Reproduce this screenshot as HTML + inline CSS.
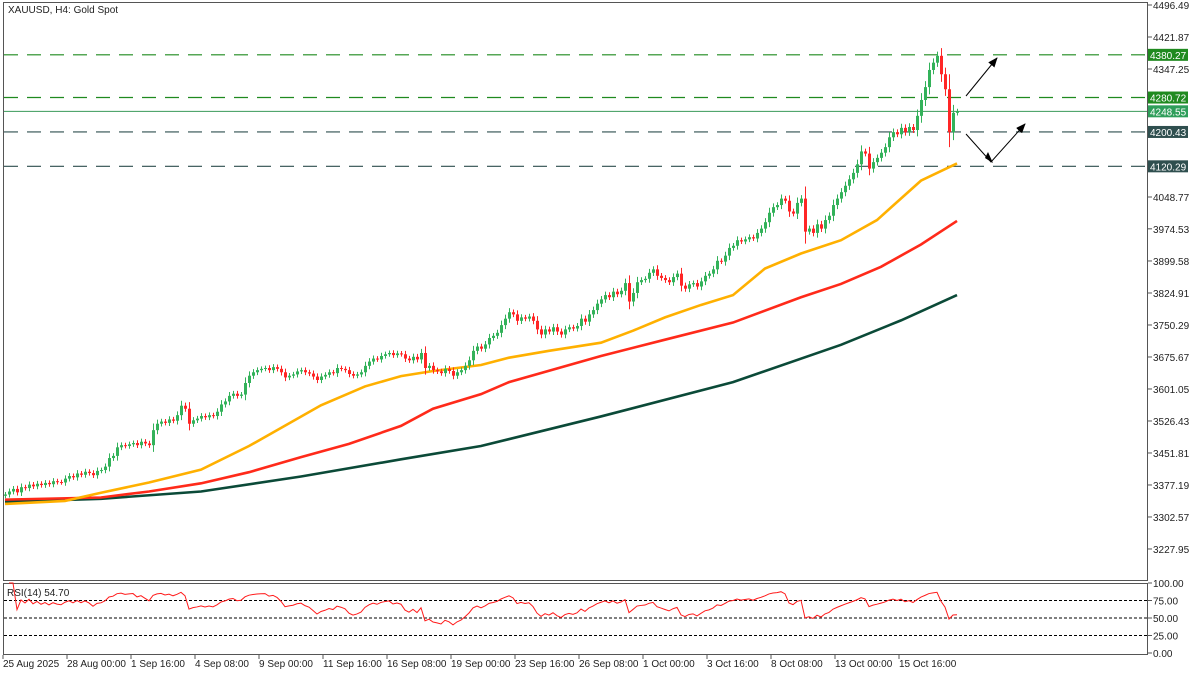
<!DOCTYPE html>
<html><head><meta charset="utf-8"><style>
body{margin:0;background:#fff;width:1200px;height:675px;overflow:hidden}
svg text{font-family:"Liberation Sans",sans-serif;font-size:10px;fill:#222}
</style></head><body>
<svg id="c" width="1200" height="675" xmlns="http://www.w3.org/2000/svg"></svg>
<script>
const closes=[3355,3362,3368,3360,3372,3370,3378,3374,3380,3377,3382,3379,3386,3384,3383,3392,3398,3395,3404,3401,3408,3405,3400,3410,3412,3420,3440,3445,3465,3470,3468,3472,3475,3470,3478,3474,3470,3505,3520,3525,3522,3530,3527,3540,3562,3555,3520,3528,3532,3538,3535,3540,3538,3548,3565,3572,3585,3590,3585,3588,3615,3632,3640,3645,3648,3650,3645,3652,3648,3640,3628,3632,3635,3642,3645,3640,3637,3630,3622,3630,3634,3640,3638,3650,3648,3645,3636,3632,3635,3640,3655,3665,3672,3670,3678,3682,3685,3680,3684,3682,3672,3668,3676,3670,3685,3650,3655,3645,3642,3638,3648,3643,3632,3640,3645,3655,3668,3690,3700,3695,3705,3720,3725,3732,3750,3765,3780,3775,3760,3768,3765,3770,3760,3740,3728,3740,3735,3745,3735,3728,3740,3745,3742,3748,3765,3758,3775,3785,3800,3810,3820,3815,3828,3822,3830,3848,3805,3825,3850,3855,3858,3872,3880,3865,3860,3855,3850,3862,3870,3842,3835,3845,3848,3840,3852,3865,3870,3880,3900,3898,3912,3930,3935,3948,3945,3950,3955,3952,3965,3975,3990,4012,4025,4030,4045,4040,4015,4010,4035,4045,3968,3975,3965,3985,3975,3995,4005,4030,4045,4060,4075,4090,4105,4125,4155,4150,4115,4130,4140,4152,4165,4188,4200,4195,4210,4200,4212,4205,4238,4275,4305,4345,4362,4378,4335,4300,4200,4245,4248.55];
const maFastIdx=[0,15,24,36,49,61,79,90,99,107,119,126,136,149,157,165,174,182,190,199,209,218,229,238];
const maFastVal=[3333,3340,3359,3383,3413,3468,3563,3607,3631,3643,3657,3674,3690,3709,3737,3768,3797,3820,3882,3917,3948,3995,4087,4127];
const maMidIdx=[0,24,36,49,61,74,86,99,107,119,126,149,165,182,199,209,219,229,238];
const maMidVal=[3343,3348,3362,3381,3407,3442,3473,3515,3555,3589,3617,3678,3716,3756,3815,3846,3886,3938,3993];
const maSlowIdx=[0,24,49,74,99,119,149,182,209,224,238];
const maSlowVal=[3338,3345,3362,3397,3437,3468,3537,3617,3704,3761,3820];
const priceTicks=[4496.49,4421.87,4347.25,4048.77,3974.53,3899.58,3824.91,3750.29,3675.67,3601.05,3526.43,3451.81,3377.19,3302.57,3227.95];
const levels=[4380.27,4280.72,4200.43,4120.29];
const levelColors=["#1f8a1f","#1f8a1f","#2f4f4f","#2f4f4f"];
const lastPrice=4248.55;
const dateLabels=["25 Aug 2025","28 Aug 00:00","1 Sep 16:00","4 Sep 08:00","9 Sep 00:00","11 Sep 16:00","16 Sep 08:00","19 Sep 00:00","23 Sep 16:00","26 Sep 08:00","1 Oct 00:00","3 Oct 16:00","8 Oct 08:00","13 Oct 00:00","15 Oct 16:00"];
const rsiTicks=[100,75,50,25,0];

const svg=document.getElementById('c');const NS="http://www.w3.org/2000/svg";
function mk(t,a,p){const e=document.createElementNS(NS,t);for(const k in a)e.setAttribute(k,a[k]);(p||svg).appendChild(e);return e;}
const X=i=>5+i*4;
const Y=p=>5+(4496.49-p)/2.332;
const RY=v=>618-(v-50)*0.7;
// frames
let e;
e=mk('rect',{x:3.5,y:2.5,width:1144,height:578,fill:'none',stroke:'#555'});


e=mk('rect',{x:3.5,y:583.5,width:1144,height:71,fill:'none',stroke:'#555'});


e=mk('text',{x:8,y:13});e.textContent='XAUUSD, H4:  Gold Spot';


// price ticks
priceTicks.forEach(p=>{const y=Y(p);
 mk('line',{x1:1148,x2:1152,y1:y,y2:y,stroke:'#555'});
 const t=mk('text',{x:1153,y:y+4});t.textContent=p.toFixed(2);
 
 });
// level lines
levels.forEach((p,k)=>{const y=Y(p);
 const l=mk('line',{x1:4,x2:1147,y1:y,y2:y,stroke:levelColors[k],'stroke-width':1.2,'stroke-dasharray':'14,9'});
 
 
 mk('rect',{x:1148,y:y-6,width:40,height:12,fill:levelColors[k]});
 const t=mk('text',{x:1150,y:y+4,style:'fill:#fff'});t.textContent=p.toFixed(2);
 
 });
{const y=Y(lastPrice);
 const l=mk('line',{x1:4,x2:1147,y1:y,y2:y,stroke:'#3a9a5a','stroke-width':1});
 
 
 mk('rect',{x:1148,y:y-6,width:40,height:12,fill:'#2e9e5a'});
 const t=mk('text',{x:1150,y:y+4,style:'fill:#fff'});t.textContent=lastPrice.toFixed(2);
 
 }
// MAs
function ma(idx,val,col,name){const pts=idx.map((i,k)=>X(i)+','+Y(val[k])).join(' ');
 const l=mk('polyline',{points:pts,fill:'none',stroke:col,'stroke-width':2.6});
 
 }
ma(maSlowIdx,maSlowVal,'#0b4a38','ma-slow');
ma(maMidIdx,maMidVal,'#ff2a1a','ma-mid');
ma(maFastIdx,maFastVal,'#ffb000','ma-fast');
// candles
const cg=mk('g',{});


closes.forEach((c,i)=>{const o=i?closes[i-1]:c-3;const up=c>=o;const col=up?'#33b25a':'#ff2626';
 const w=Math.abs(c-o)*0.3+5;const hi=Math.max(o,c)+w,lo=Math.min(o,c)-w;const x=X(i);
 mk('line',{x1:x+0.5,x2:x+0.5,y1:Y(hi),y2:Y(lo),stroke:col},cg);
 const yt=Y(Math.max(o,c)),yb=Y(Math.min(o,c));
 const r=mk('rect',{x:x-1,y:yt,width:3,height:Math.max(1,yb-yt),fill:col},cg);
 
 });
// arrows
mk('defs',{}).innerHTML='<marker id="ah" markerWidth="10" markerHeight="8" refX="9" refY="4" orient="auto"><path d="M0,0 L10,4 L0,8 Z" fill="#000"/></marker>';
e=mk('polyline',{points:'966,96 997,58',fill:'none',stroke:'#000','stroke-width':1,'marker-end':'url(#ah)'});


e=mk('polyline',{points:'966,134 991,162 1025,124',fill:'none',stroke:'#000','stroke-width':1,'marker-end':'url(#ah)'});


mk('polygon',{points:'985,158 993,163 988,152',fill:'#000'});
// RSI
rsiTicks.forEach(v=>{const y=RY(v);mk('line',{x1:1148,x2:1152,y1:y,y2:y,stroke:'#555'});
 const t=mk('text',{x:1153,y:y+4});t.textContent=v.toFixed(2);
 
 
 if(v==75||v==50||v==25){const l=mk('line',{x1:4,x2:1147,y1:RY(v),y2:RY(v),stroke:'#000','stroke-dasharray':'3,2'});
 
 }});
let ag=0,al=0;const rsi=[];
closes.forEach((c,i)=>{if(i==0){rsi.push(null);return;}const d=c-closes[i-1];const g=Math.max(d,0),l=Math.max(-d,0);
 if(i<=14){ag+=g/14;al+=l/14;}else{ag=(ag*13+g)/14;al=(al*13+l)/14;}
 rsi.push(al==0?100:100-100/(1+ag/al));});
const rp=rsi.map((v,i)=>v==null?null:X(i)+','+RY(Math.max(0,Math.min(100,v)))).filter(Boolean).join(' ');
e=mk('polyline',{points:rp,fill:'none',stroke:'#ff1a1a','stroke-width':1});


e=mk('text',{x:7,y:596});e.textContent='RSI(14) '+rsi[rsi.length-1].toFixed(2);


// dates
dateLabels.forEach((d,k)=>{const x=3+k*64;mk('line',{x1:x,x2:x,y1:655,y2:659,stroke:'#555'});
 const t=mk('text',{x:x,y:667});t.textContent=d;
 
 });
</script>
</body></html>
